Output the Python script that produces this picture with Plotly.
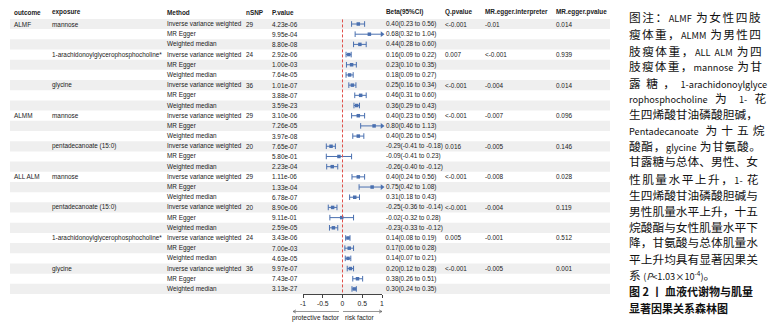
import plotly.graph_objects as go

W, H = 771, 325

# ---------------- data ----------------
outcome = ["ALMF", "", "", "", "", "", "", "", "",
           "ALMM", "", "", "", "", "",
           "ALL ALM", "", "", "", "", "", "", "", "", "", "", ""]
exposure = ["mannose", "", "", "1-arachidonoylglycerophosphocholine*", "", "", "glycine", "", "",
            "mannose", "", "", "pentadecanoate (15:0)", "", "",
            "mannose", "", "", "pentadecanoate (15:0)", "", "",
            "1-arachidonoylglycerophosphocholine*", "", "", "glycine", "", ""]
method = ["Inverse variance weighted", "MR Egger", "Weighted median"] * 9
nsnp = ["29", "", "", "24", "", "", "36", "", "",
        "29", "", "", "20", "", "",
        "29", "", "", "20", "", "", "24", "", "", "36", "", ""]
pvalue = ["4.23e-06", "9.95e-04", "8.80e-08", "2.92e-06", "1.00e-03", "7.64e-05",
          "1.01e-07", "3.88e-07", "3.59e-23",
          "3.10e-06", "7.26e-05", "3.97e-08", "7.65e-07", "5.80e-01", "2.23e-04",
          "1.11e-06", "1.33e-04", "6.78e-07", "8.90e-06", "9.11e-01", "2.59e-05",
          "3.43e-06", "7.00e-03", "4.63e-05", "9.97e-07", "7.43e-07", "3.13e-27"]
beta = [0.40, 0.68, 0.44, 0.16, 0.23, 0.18, 0.25, 0.46, 0.36,
        0.40, 0.80, 0.40, -0.29, -0.09, -0.26,
        0.40, 0.75, 0.31, -0.25, -0.02, -0.23, 0.14, 0.17, 0.14, 0.20, 0.38, 0.30]
ci_low = [0.23, 0.32, 0.28, 0.09, 0.10, 0.09, 0.16, 0.31, 0.29,
          0.23, 0.46, 0.26, -0.41, -0.41, -0.40,
          0.24, 0.42, 0.18, -0.36, -0.32, -0.33, 0.08, 0.06, 0.07, 0.12, 0.26, 0.24]
ci_high = [0.56, 1.04, 0.60, 0.22, 0.35, 0.27, 0.34, 0.60, 0.43,
           0.56, 1.13, 0.54, -0.18, 0.23, -0.12,
           0.56, 1.08, 0.43, -0.14, 0.28, -0.12, 0.19, 0.28, 0.21, 0.28, 0.51, 0.35]
q_pvalue = ["<-0.001", "", "", "0.007", "", "", "<-0.001", "", "",
            "<-0.001", "", "", "0.016", "", "",
            "<-0.001", "", "", "<-0.001", "", "", "0.005", "", "", "<-0.001", "", ""]
egger_interp = ["-0.01", "", "", "<-0.001", "", "", "-0.004", "", "",
                "-0.007", "", "", "-0.005", "", "",
                "-0.008", "", "", "-0.004", "", "", "-0.001", "", "", "-0.005", "", ""]
egger_p = ["0.014", "", "", "0.939", "", "", "0.014", "", "",
           "0.096", "", "", "0.146", "", "",
           "0.028", "", "", "0.119", "", "", "0.512", "", "", "0.001", "", ""]
headers = ["outcome", "exposure", "Method", "nSNP", "P.value", "Beta(95%CI)",
           "Q.pvalue", "MR.egger.interpreter", "MR.egger.pvalue"]
x_ticks = [-1, -0.5, 0, 0.5, 1]
x_ticktext = ["-1", "-0.5", "0", "0.5", "1"]

caption_body = [
    "图注：ALMF 为女性四肢",
    "瘦体重，ALMM 为男性四",
    "肢瘦体重，ALL ALM 为四",
    "肢瘦体重，mannose 为甘",
    "露糖，1-arachidonoylglyce",
    "rophosphocholine 为 1- 花",
    "生四烯酸甘油磷酸胆碱，",
    "Pentadecanoate 为十五烷",
    "酸酯，glycine 为甘氨酸。",
    "甘露糖与总体、男性、女",
    "性肌量水平上升，1- 花",
    "生四烯酸甘油磷酸胆碱与",
    "男性肌量水平上升，十五",
    "烷酸酯与女性肌量水平下",
    "降，甘氨酸与总体肌量水",
    "平上升均具有显著因果关",
    "系 (P<1.03×10-4)。",
]
caption_title = ["图 2 丨 血液代谢物与肌量", "显著因果关系森林图"]

# ---------------- layout constants ----------------
n = len(beta)
rows = list(range(1, n + 1))
ROW_TOP_PX = 24.0
PITCH = 10.19
AXIS_PX = 294.0
y_top = 1 - ROW_TOP_PX / PITCH
y_bot = 1 + (AXIS_PX - ROW_TOP_PX) / PITCH
HEADER_Y = 1 + (12 - ROW_TOP_PX) / PITCH

col_x = [13, 51, 166, 245, 271, 385, 444, 484, 555]
TXT = "#222222"
BLUE = "#4a70b0"
FS = 6.4
FONT = "Liberation Sans, Arial, sans-serif"

fig = go.Figure()

# confidence interval lines (clipped at axis limit 1, arrow when beyond)
xl, yl = [], []
cap_x, cap_y, arr_x, arr_y = [], [], [], []
for r, lo, hi in zip(rows, ci_low, ci_high):
    hi_c = min(hi, 1.0)
    xl += [lo, hi_c, None]
    yl += [r, r, None]
    cap_x.append(lo); cap_y.append(r)
    if hi > 1.0:
        arr_x.append(1.0); arr_y.append(r)
    else:
        cap_x.append(hi); cap_y.append(r)

fig.add_trace(go.Scatter(x=xl, y=yl, mode="lines", line=dict(color=BLUE, width=1),
                         hoverinfo="skip", cliponaxis=False, showlegend=False))
fig.add_trace(go.Scatter(x=cap_x, y=cap_y, mode="markers",
                         marker=dict(symbol="line-ns", size=4, line=dict(color=BLUE, width=1)),
                         hoverinfo="skip", cliponaxis=False, showlegend=False))
fig.add_trace(go.Scatter(x=arr_x, y=arr_y, mode="markers",
                         marker=dict(symbol="triangle-right", size=5, color=BLUE),
                         hoverinfo="skip", cliponaxis=False, showlegend=False))
fig.add_trace(go.Scatter(x=beta, y=rows, mode="markers",
                         marker=dict(symbol="square", size=3.5, color=BLUE),
                         cliponaxis=False, showlegend=False))

def P(xpx, ypx):
    return f"{xpx / W:.5f},{1 - ypx / H:.5f}"

shapes = []
# alternating row shading
for r in rows:
    if r % 2 == 1:
        shapes.append(dict(type="rect", xref="paper", yref="y",
                           x0=10 / W, x1=610 / W, y0=r - 0.5, y1=r + 0.5,
                           fillcolor="#efefef", line=dict(width=0), layer="below"))
# reference line at 0
shapes.append(dict(type="line", xref="x", yref="y", x0=0, x1=0, y0=0.55, y1=y_bot,
                   line=dict(color="#e0504a", width=1, dash="3px,2px"), layer="above"))
# direction arrows under the axis
AY = 311.5
arrow_line = dict(color="#666666", width=0.7)
shapes.append(dict(type="path", xref="paper", yref="paper",
                   path=f"M{P(293, AY)} L{P(339, AY)} M{P(296, AY - 1.6)} L{P(293, AY)} L{P(296, AY + 1.6)}",
                   line=arrow_line))
shapes.append(dict(type="path", xref="paper", yref="paper",
                   path=f"M{P(343, AY)} L{P(382, AY)} M{P(379, AY - 1.6)} L{P(382, AY)} L{P(379, AY + 1.6)}",
                   line=arrow_line))

ann = []
def txt(xpx, yv, s, bold=False, size=FS):
    ann.append(dict(xref="paper", yref="y", x=xpx / W, y=yv, text=(f"<b>{s}</b>" if bold else s),
                    showarrow=False, xanchor="left", yanchor="middle", borderpad=0,
                    font=dict(size=size, color=TXT, family=FONT)))

for cx, h in zip(col_x, headers):
    txt(cx, HEADER_Y, h, bold=True)

beta_txt = [f"{b:.2f}({l:.2f} to {h:.2f})" for b, l, h in zip(beta, ci_low, ci_high)]
cols = [outcome, exposure, method, nsnp, pvalue, beta_txt, q_pvalue, egger_interp, egger_p]
for cx, col in zip(col_x, cols):
    for r, s in zip(rows, col):
        if s:
            txt(cx, r, s)

ann.append(dict(xref="paper", yref="paper", x=316 / W, y=1 - 317.5 / H, text="protective factor",
                showarrow=False, xanchor="center", yanchor="middle", borderpad=0,
                font=dict(size=6.6, color=TXT, family=FONT)))
ann.append(dict(xref="paper", yref="paper", x=344 / W, y=1 - 317.5 / H, text="risk factor",
                showarrow=False, xanchor="left", yanchor="middle", borderpad=0,
                font=dict(size=6.6, color=TXT, family=FONT)))

# ---------------- caption on the right (justified lines) ----------------
CJK_SIZE = 11.7
LAT_SIZE = 9.2
LINE_W = 129.0
lat_w = {c: 0.5 for c in "0123456789"}
lat_w.update(dict(a=.49, b=.55, c=.44, d=.55, e=.49, f=.29, g=.5, h=.54, i=.25, j=.25, k=.48,
                  l=.26, m=.83, n=.55, o=.54, p=.55, q=.55, r=.35, s=.42, t=.34, u=.54, v=.46,
                  w=.7, x=.44, y=.46, z=.42, A=.54, L=.47, M=.7, F=.47, P=.58))
lat_w.update({"-": .31, "(": .3, ")": .3, "<": .5, ".": .25, "×": .5})

def is_cjk(ch):
    return ord(ch) >= 0x2E80

def runs_of(s):
    out = []
    for ch in s:
        kind = "c" if (is_cjk(ch) or ch == " ") else "l"
        if out and out[-1][0] == kind:
            out[-1][1] += ch
        else:
            out.append([kind, ch])
    return out

def justify(s, justify_line=True):
    rs = runs_of(s)
    natural = 0.0
    gaps = 0
    for kind, t in rs:
        if kind == "c":
            for ch in t:
                natural += CJK_SIZE if ch != " " else 0.25 * CJK_SIZE
            gaps += len(t)
        else:
            natural += sum(lat_w.get(ch, 0.5) for ch in t) * LAT_SIZE
    if rs and rs[-1][0] == "c":
        gaps -= 1
    ls = (LINE_W - natural) / gaps if (justify_line and gaps > 0) else 0.0
    parts = []
    for kind, t in rs:
        if kind == "c":
            parts.append(f'<span style="letter-spacing:{ls:.2f}px">{t}</span>')
        else:
            t = t.replace("(P<", "(<i>P</i>&lt;").replace("10-4", "10<sup>-4</sup>")
            parts.append(f'<span style="font-size:{LAT_SIZE}px">{t}</span>')
    return "".join(parts)

body_y = [17, 33, 50, 66, 82, 97, 113, 129, 145, 161, 178, 194, 210, 226, 242, 258, 274]
for k, (s, ypx) in enumerate(zip(caption_body, body_y)):
    last = (k == len(caption_body) - 1)
    ann.append(dict(xref="paper", yref="paper", x=628 / W, y=1 - ypx / H,
                    text=justify(s, justify_line=not last),
                    showarrow=False, xanchor="left", yanchor="middle", borderpad=0,
                    font=dict(size=CJK_SIZE, color="#111111", family="Noto Sans CJK SC")))
for s, ypx in zip(caption_title, [291, 308]):
    ann.append(dict(xref="paper", yref="paper", x=628 / W, y=1 - ypx / H, text=f"<b>{s}</b>",
                    showarrow=False, xanchor="left", yanchor="middle", borderpad=0,
                    font=dict(size=11, color="#111111", family="Noto Sans CJK SC")))

fig.update_layout(
    width=W, height=H, margin=dict(l=0, r=0, t=0, b=0, autoexpand=False),
    paper_bgcolor="white", plot_bgcolor="rgba(0,0,0,0)",
    shapes=shapes, annotations=ann, showlegend=False,
    font=dict(family=FONT, size=FS, color=TXT),
    xaxis=dict(domain=[303 / W, 382 / W], range=[-1, 1], showgrid=False, zeroline=False,
               showline=True, linecolor="#444", linewidth=0.8,
               ticks="outside", ticklen=3, tickwidth=0.8, tickcolor="#444",
               tickvals=x_ticks, ticktext=x_ticktext, tickfont=dict(size=6.8, color=TXT),
               fixedrange=True),
    yaxis=dict(domain=[(H - AXIS_PX) / H, 1], range=[y_bot, y_top], visible=False,
               fixedrange=True),
)

fig.write_html("out.html", config={"displayModeBar": False},
               post_script="document.body.style.margin='0';document.body.style.overflow='hidden';")
